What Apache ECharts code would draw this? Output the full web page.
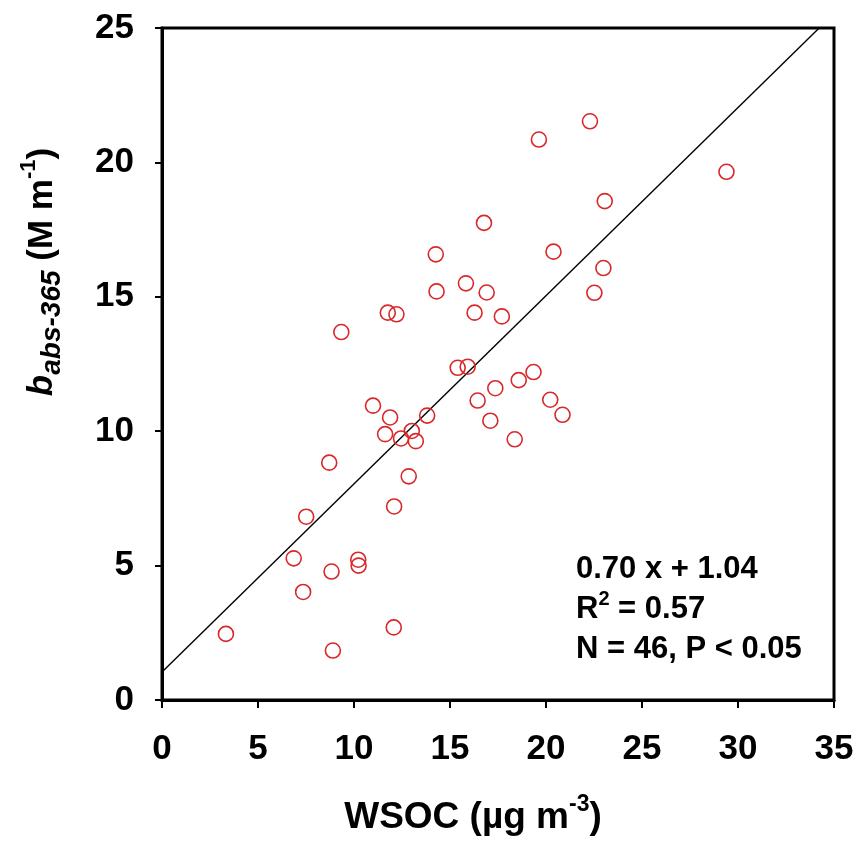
<!DOCTYPE html>
<html>
<head>
<meta charset="utf-8">
<script src="https://cdn.jsdelivr.net/npm/echarts@6/dist/echarts.min.js"></script>
<style>
html,body{margin:0;padding:0;background:#fff;}
#chart{width:858px;height:843px;}
</style>
</head>
<body>
<div id="chart"></div>
<script>
// WSOC (µg m-3)
var wsoc = [16.77, 14.26, 14.30, 15.83, 16.91, 11.76, 12.21, 16.28, 17.70, 9.34,
            15.40, 15.92, 17.36, 10.99, 11.88, 11.62, 12.45, 13.01, 13.22, 13.81,
            16.44, 17.10, 8.71, 12.85, 12.09, 7.51, 6.86, 10.22, 10.24, 8.83,
            7.35, 3.33, 12.07, 8.90, 22.29, 19.63, 29.40, 23.06, 20.39, 22.99,
            22.52, 19.35, 18.58, 20.22, 20.86, 18.37];
// b_abs-365 (M m-1)
var babs = [17.75, 16.58, 15.20, 15.50, 15.16, 14.41, 14.35, 14.41, 14.27, 13.69,
            12.36, 12.40, 11.60, 10.95, 10.51, 9.89, 9.73, 10.01, 9.63, 10.58,
            11.14, 10.39, 8.83, 8.32, 7.20, 6.82, 5.27, 5.22, 5.00, 4.78,
            4.02, 2.46, 2.70, 1.84, 21.53, 20.85, 19.65, 18.56, 16.68, 16.07,
            15.15, 12.20, 11.90, 11.17, 10.61, 9.70];
var fitSlope = 0.70;
var fitIntercept = 1.04;
var xTicks = [0, 5, 10, 15, 20, 25, 30, 35];
var yTicks = [0, 5, 10, 15, 20, 25];
var statLines = ['0.70 x + 1.04', 'R2 = 0.57', 'N = 46, P < 0.05'];

var points = wsoc.map(function (x, i) { return [x, babs[i]]; });
var yMax = yTicks[yTicks.length - 1];
var fitLine = [[0, fitIntercept], [(yMax - fitIntercept) / fitSlope, yMax]];

var FONT = '"Liberation Sans", Arial, sans-serif';
var chart = echarts.init(document.getElementById('chart'), null, {renderer: 'canvas'});
var option = {
  animation: false,
  backgroundColor: '#ffffff',
  grid: {left: 162, right: 24, top: 28, bottom: 143, show: true, borderColor: '#000', borderWidth: 3, backgroundColor: 'transparent'},
  xAxis: {
    type: 'value', min: xTicks[0], max: xTicks[xTicks.length - 1], interval: 5,
    axisLine: {show: true, onZero: false, lineStyle: {color: '#000', width: 3}},
    axisTick: {show: true, inside: false, length: 8, lineStyle: {color: '#000', width: 2}},
    splitLine: {show: false},
    axisLabel: {color: '#000', fontFamily: FONT, fontWeight: 'bold', fontSize: 35, margin: 32}
  },
  yAxis: {
    type: 'value', min: yTicks[0], max: yMax, interval: 5,
    axisLine: {show: true, onZero: false, lineStyle: {color: '#000', width: 3}},
    axisTick: {show: true, inside: false, length: 7, lineStyle: {color: '#000', width: 2}},
    splitLine: {show: false},
    axisLabel: {color: '#000', fontFamily: FONT, fontWeight: 'bold', fontSize: 35, margin: 28}
  },
  series: [
    {
      type: 'line', data: fitLine, symbol: 'none', silent: true,
      lineStyle: {color: '#000', width: 1.4}, z: 2
    },
    {
      type: 'scatter', data: points, symbol: 'circle', symbolSize: 15,
      itemStyle: {color: 'rgba(0,0,0,0)', borderColor: '#d8282a', borderWidth: 1.6, opacity: 1},
      z: 3
    }
  ],
  graphic: [
    {
      type: 'text', x: 473, y: 818,
      style: {
        text: '{m|WSOC (µg m}{s|-3}{m|)}',
        align: 'center', verticalAlign: 'middle',
        rich: {
          m: {fontFamily: FONT, fontWeight: 'bold', fontSize: 37, lineHeight: 50, verticalAlign: 'middle', fill: '#000'},
          s: {fontFamily: FONT, fontWeight: 'bold', fontSize: 23, lineHeight: 23, verticalAlign: 'top', fill: '#000'}
        }
      }
    },
    {
      type: 'text', x: 42, y: 272, rotation: Math.PI / 2,
      style: {
        text: '{b|b}{sub|abs-365}{m| (M m}{sup|-1}{m|)}',
        align: 'center', verticalAlign: 'middle',
        rich: {
          b: {fontFamily: FONT, fontWeight: 'bold', fontStyle: 'italic', fontSize: 35, lineHeight: 48, verticalAlign: 'middle', fill: '#000'},
          sub: {fontFamily: FONT, fontWeight: 'bold', fontStyle: 'italic', fontSize: 28, lineHeight: 28, verticalAlign: 'bottom', fill: '#000'},
          m: {fontFamily: FONT, fontWeight: 'bold', fontSize: 35, lineHeight: 48, verticalAlign: 'middle', fill: '#000'},
          sup: {fontFamily: FONT, fontWeight: 'bold', fontSize: 22, lineHeight: 22, verticalAlign: 'top', fill: '#000'}
        }
      }
    },
    {
      type: 'text', x: 576, y: 549,
      style: {
        text: '{t|' + statLines[0] + '}\n{t|R}{sup|2}{t|' + statLines[1].slice(2) + '}\n{t|' + statLines[2] + '}',
        align: 'left', verticalAlign: 'top',
        rich: {
          t: {fontFamily: FONT, fontWeight: 'bold', fontSize: 31, lineHeight: 40, verticalAlign: 'middle', fill: '#000'},
          sup: {fontFamily: FONT, fontWeight: 'bold', fontSize: 20, lineHeight: 20, verticalAlign: 'top', fill: '#000'}
        }
      }
    }
  ]
};
chart.setOption(option);
</script>
</body>
</html>
